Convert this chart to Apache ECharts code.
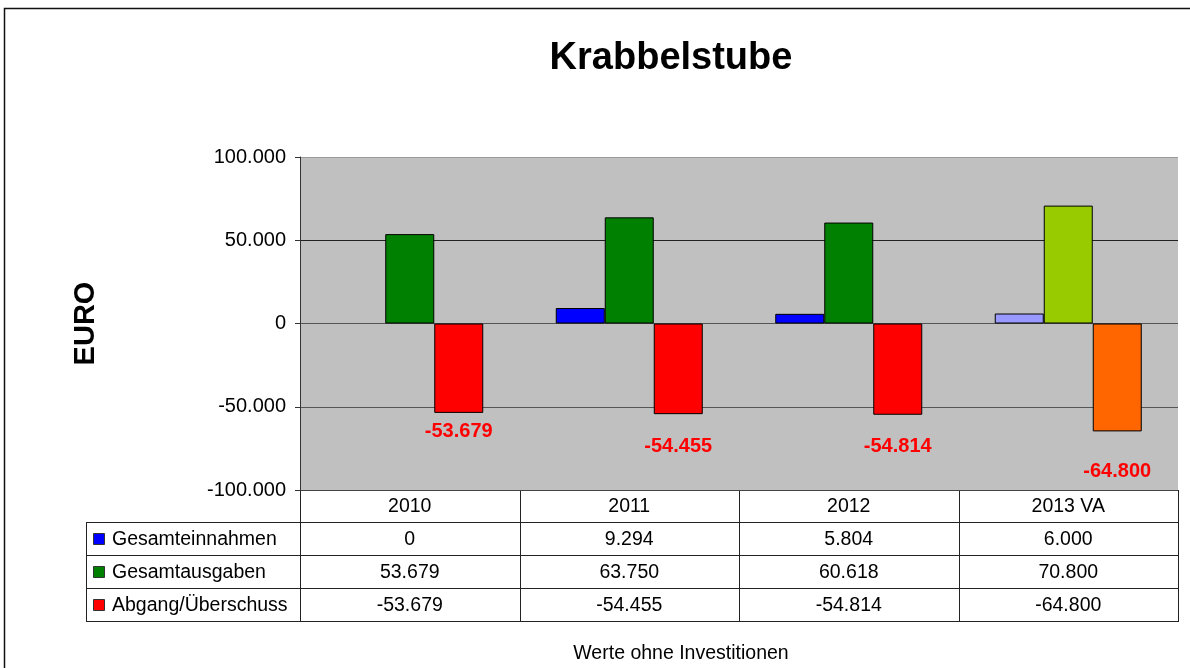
<!DOCTYPE html>
<html lang="de">
<head>
<meta charset="UTF-8">
<title>Krabbelstube</title>
<style>html,body{margin:0;padding:0;background:#fff}#main{width:1190px;height:668px}</style>
</head>
<body>
<div id="main"></div>
<script src="https://cdn.jsdelivr.net/npm/echarts@6/dist/echarts.min.js"></script>
<script>
var years = ['2010', '2011', '2012', '2013 VA'];
var seriesNames = ['Gesamteinnahmen', 'Gesamtausgaben', 'Abgang/Überschuss'];
var einnahmen = [0, 9294, 5804, 6000];
var ausgaben = [53679, 63750, 60618, 70800];
var abgang = [-53679, -54455, -54814, -64800];

var colors = ['#0000ff', '#008000', '#ff0000'];
var colorsVA = ['#9999ff', '#99cc00', '#ff6600'];   // Voranschlag 2013
var labelGap = [9, 22, 22, 30];

var FONT = '"Liberation Sans", Arial, sans-serif';
// plot box
var L = 300, R = 1178, T = 157, B = 490;
var rows = [490, 522, 555, 588, 621];

function fmt(v) {
    var s = Math.abs(v).toString().replace(/\B(?=(\d{3})+(?!\d))/g, '.');
    return (v < 0 ? '-' : '') + s;
}

function items(values, s) {
    return values.map(function (v, i) {
        var it = { value: v };
        if (i === 3) it.itemStyle = { color: colorsVA[s] };
        if (v === 0) it.itemStyle = { borderWidth: 0 };
        if (s === 2) it.label = { distance: labelGap[i] };
        return it;
    });
}

var myChart = echarts.init(document.getElementById('main'));

// frame, title, footer and the data table below the plot
var g = [];
var lineStyle = { stroke: '#222', lineWidth: 1 };
g.push({ type: 'polyline', shape: { points: [[4.5, 668], [4.5, 8.5], [1190, 8.5]] }, style: { stroke: '#111', lineWidth: 1.5, fill: null } });
g.push({ type: 'text', x: 671, y: 59, style: { text: 'Krabbelstube', font: 'bold 38px ' + FONT, fill: '#000', align: 'center', verticalAlign: 'middle' } });
g.push({ type: 'text', x: 681, y: 654, style: { text: 'Werte ohne Investitionen', font: '19.5px ' + FONT, fill: '#000', align: 'center', verticalAlign: 'middle' } });

var colW = (R - L) / years.length;
for (var r = 1; r < rows.length; r++) {
    g.push({ type: 'line', shape: { x1: 86, y1: rows[r] + 0.5, x2: R, y2: rows[r] + 0.5 }, style: lineStyle });
}
g.push({ type: 'line', shape: { x1: 86.5, y1: rows[1], x2: 86.5, y2: rows[4] + 1 }, style: lineStyle });
for (var c = 0; c <= years.length; c++) {
    var x = Math.round(L + colW * c) + 0.5;
    g.push({ type: 'line', shape: { x1: x, y1: rows[0], x2: x, y2: rows[4] + 1 }, style: lineStyle });
}
years.forEach(function (y, i) {
    g.push({ type: 'text', x: L + colW * (i + 0.5), y: (rows[0] + rows[1]) / 2 + 1, style: { text: y, font: '19.5px ' + FONT, fill: '#000', align: 'center', verticalAlign: 'middle' } });
});
var tableData = [einnahmen, ausgaben, abgang];
seriesNames.forEach(function (name, s) {
    var cy = (rows[s + 1] + rows[s + 2]) / 2 + 1;
    g.push({ type: 'rect', shape: { x: 93.5, y: Math.round(cy) - 6.5, width: 11, height: 11 }, style: { fill: colors[s], stroke: '#333', lineWidth: 1 } });
    g.push({ type: 'text', x: 112, y: cy, style: { text: name, font: '19.5px ' + FONT, fill: '#000', align: 'left', verticalAlign: 'middle' } });
    tableData[s].forEach(function (v, i) {
        g.push({ type: 'text', x: L + colW * (i + 0.5), y: cy, style: { text: fmt(v), font: '19.5px ' + FONT, fill: '#000', align: 'center', verticalAlign: 'middle' } });
    });
});

option = {
    animation: false,
    textStyle: { fontFamily: FONT },
    grid: {
        left: L, right: 1190 - R, top: T, bottom: 668 - B,
        show: true, backgroundColor: '#c0c0c0', borderWidth: 0
    },
    xAxis: {
        type: 'category',
        data: years,
        axisLine: { show: false },
        axisTick: { show: false },
        axisLabel: { show: false }
    },
    yAxis: {
        type: 'value',
        min: -100000, max: 100000, interval: 50000,
        name: 'EURO',
        nameLocation: 'middle',
        nameGap: 200,
        nameRotate: 90,
        nameTextStyle: { fontSize: 29, fontWeight: 'bold', color: '#000', fontFamily: FONT },
        axisLine: { show: true, lineStyle: { color: '#333' } },
        axisTick: { show: true, length: 5, lineStyle: { color: '#333' } },
        axisLabel: { color: '#000', fontSize: 20, margin: 14, formatter: fmt },
        splitLine: { show: true, lineStyle: { color: ['#444', '#555', '#555', '#222', '#999'], width: 1 } }
    },
    series: [
        {
            name: seriesNames[0], type: 'bar', barWidth: 49, barGap: '0%',
            itemStyle: { color: colors[0], borderColor: '#000', borderWidth: 1 },
            data: items(einnahmen, 0)
        },
        {
            name: seriesNames[1], type: 'bar', barWidth: 49, barGap: '0%',
            itemStyle: { color: colors[1], borderColor: '#000', borderWidth: 1 },
            data: items(ausgaben, 1)
        },
        {
            name: seriesNames[2], type: 'bar', barWidth: 49, barGap: '0%',
            itemStyle: { color: colors[2], borderColor: '#000', borderWidth: 1 },
            label: {
                show: true, position: 'bottom',
                color: '#ff0000', fontSize: 20, fontWeight: 'bold', fontFamily: FONT,
                formatter: function (p) { return fmt(p.value); }
            },
            data: items(abgang, 2)
        }
    ],
    graphic: g
};

myChart.setOption(option);
</script>
</body>
</html>
